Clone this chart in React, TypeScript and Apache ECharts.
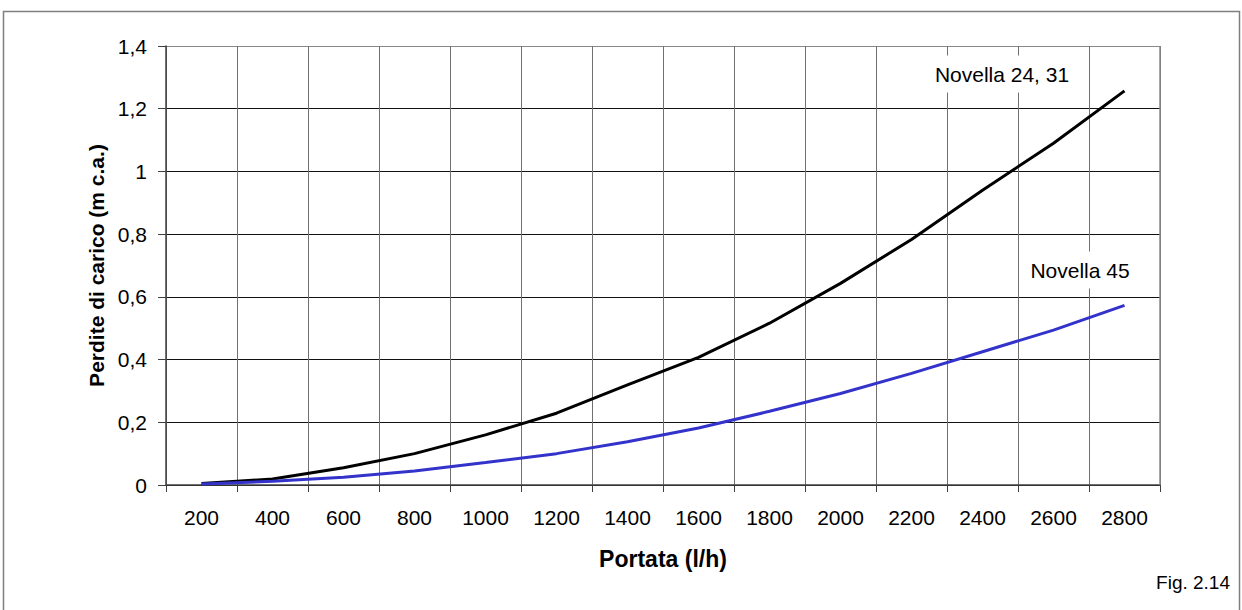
import React, { useEffect, useRef } from "react";
import * as echarts from "echarts";

const categories = ["200", "400", "600", "800", "1000", "1200", "1400", "1600", "1800", "2000", "2200", "2400", "2600", "2800"];
const novella2431 = [0.005, 0.019, 0.055, 0.1, 0.16, 0.229, 0.319, 0.407, 0.516, 0.643, 0.783, 0.94, 1.09, 1.257];
const novella45 = [0.003, 0.012, 0.025, 0.045, 0.072, 0.1, 0.138, 0.182, 0.235, 0.292, 0.356, 0.425, 0.494, 0.573];
const seriesNames = ["Novella 24, 31", "Novella 45"];
const xAxisTitle = "Portata (l/h)";
const yAxisTitle = "Perdite di carico (m c.a.)";
const figLabel = "Fig. 2.14";

const FONT = "'Liberation Sans', Arial, Helvetica, sans-serif";

export default function App() {
  const ref = useRef<HTMLDivElement>(null);
  useEffect(() => {
    document.body.style.margin = "0";
    const chart = echarts.init(ref.current!, null, { renderer: "svg" });
    chart.setOption({
      animation: false,
      backgroundColor: "#ffffff",
      textStyle: { fontFamily: FONT },
      grid: { left: 166, top: 46, right: 82, bottom: 125, containLabel: false },
      xAxis: {
        type: "category",
        data: categories,
        boundaryGap: true,
        name: xAxisTitle,
        nameLocation: "middle",
        nameGap: 62,
        nameTextStyle: { fontFamily: FONT, fontSize: 23, fontWeight: "bold", color: "#000" },
        axisLine: { show: true, lineStyle: { color: "#404040", width: 1.5 } },
        axisTick: { show: true, inside: false, length: 7, interval: 0, lineStyle: { color: "#404040", width: 1 } },
        axisLabel: { show: true, interval: 0, margin: 22, fontFamily: FONT, fontSize: 21, color: "#000" },
        splitLine: { show: true, interval: 0, lineStyle: { color: "#707070", width: 1 } },
      },
      yAxis: {
        type: "value",
        min: 0,
        max: 1.4,
        interval: 0.2,
        name: yAxisTitle,
        nameLocation: "middle",
        nameGap: 46,
        nameRotate: 90,
        nameTextStyle: { fontFamily: FONT, fontSize: 21, fontWeight: "bold", color: "#000" },
        axisLine: { show: true, lineStyle: { color: "#404040", width: 1.5 } },
        axisTick: { show: true, inside: false, length: 8, lineStyle: { color: "#404040", width: 1 } },
        axisLabel: {
          margin: 19,
          fontFamily: FONT,
          fontSize: 21,
          color: "#000",
          formatter: (v: number) => String(Math.round(v * 10) / 10).replace(".", ","),
        },
        splitLine: {
          show: true,
          lineStyle: { color: ["#111", "#111", "#111", "#111", "#111", "#111", "#111", "#888"], width: 1 },
        },
      },
      series: [
        {
          name: seriesNames[0],
          type: "line",
          data: novella2431,
          symbol: "none",
          smooth: false,
          lineStyle: { color: "#000000", width: 3 },
          z: 3,
        },
        {
          name: seriesNames[1],
          type: "line",
          data: novella45,
          symbol: "none",
          smooth: false,
          lineStyle: { color: "#3333cc", width: 3 },
          z: 3,
        },
      ],
      graphic: [
        {
          type: "rect",
          shape: { x: 3.5, y: 11.5, width: 1236, height: 640 },
          style: { fill: "none", stroke: "#7f7f7f", lineWidth: 1.5 },
          silent: true,
        },
        {
          type: "line",
          shape: { x1: 1160, y1: 46, x2: 1160, y2: 485 },
          style: { stroke: "#888", lineWidth: 1.5 },
          z: 2,
        },
        {
          type: "text",
          x: 1002,
          y: 74,
          z: 10,
          style: {
            text: seriesNames[0],
            fontFamily: FONT,
            fontSize: 21,
            fill: "#000",
            align: "center",
            verticalAlign: "middle",
            backgroundColor: "#ffffff",
            padding: [8, 4, 8, 4],
          },
        },
        {
          type: "text",
          x: 1080,
          y: 270,
          z: 10,
          style: {
            text: seriesNames[1],
            fontFamily: FONT,
            fontSize: 21,
            fill: "#000",
            align: "center",
            verticalAlign: "middle",
            backgroundColor: "#ffffff",
            padding: [8, 4, 8, 4],
          },
        },
        {
          type: "text",
          x: 1230,
          y: 582,
          z: 10,
          style: {
            text: figLabel,
            fontFamily: FONT,
            fontSize: 19,
            fill: "#000",
            align: "right",
            verticalAlign: "middle",
          },
        },
      ],
    });
    return () => chart.dispose();
  }, []);
  return <div ref={ref} style={{ width: 1242, height: 610 }} />;
}
